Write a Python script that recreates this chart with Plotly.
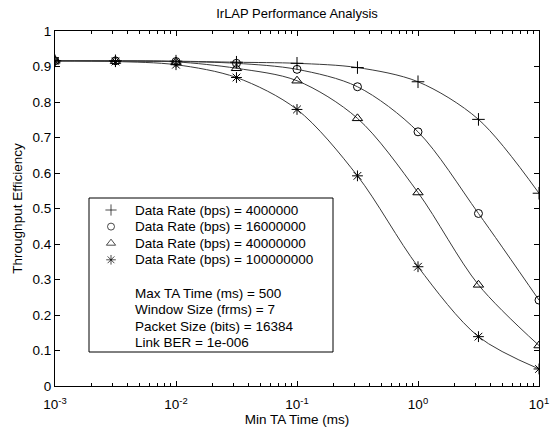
import plotly.graph_objects as go

# Minimum turnaround times (ms), sampled at half-decade steps
ta_time = [0.001, 0.00316, 0.01, 0.0316, 0.1, 0.316, 1.0, 3.16, 10.0]

# Throughput efficiency for each data rate
eff_4m = [0.916, 0.916, 0.915, 0.912, 0.909, 0.897, 0.857, 0.751, 0.543]
eff_16m = [0.916, 0.916, 0.914, 0.909, 0.892, 0.843, 0.716, 0.486, 0.242]
eff_40m = [0.916, 0.915, 0.913, 0.895, 0.860, 0.754, 0.545, 0.285, 0.114]
eff_100m = [0.916, 0.914, 0.905, 0.869, 0.779, 0.592, 0.336, 0.139, 0.048]

series_names = [
    "Data Rate (bps) = 4000000",
    "Data Rate (bps) = 16000000",
    "Data Rate (bps) = 40000000",
    "Data Rate (bps) = 100000000",
]
series_values = [eff_4m, eff_16m, eff_40m, eff_100m]
series_symbols = ["cross-thin-open", "circle-open", "triangle-up-open", "asterisk-open"]
series_sizes = [9, 8, 9, 9]

# Simulation parameters listed under the data rates
param_lines = [
    "Max TA Time (ms) = 500",
    "Window Size (frms) = 7",
    "Packet Size (bits) = 16384",
    "Link BER = 1e-006",
]

x_tick_vals = [0.001, 0.01, 0.1, 1, 10]
x_tick_text = ["10<sup>-3</sup>", "10<sup>-2</sup>", "10<sup>-1</sup>", "10<sup>0</sup>", "10<sup>1</sup>"]
x_minor_vals = [m * d for d in [0.001, 0.01, 0.1, 1] for m in range(2, 10)]
y_tick_vals = [0, 0.1, 0.2, 0.3, 0.4, 0.5, 0.6, 0.7, 0.8, 0.9, 1]
y_tick_text = ["0", "0.1", "0.2", "0.3", "0.4", "0.5", "0.6", "0.7", "0.8", "0.9", "1"]

FONT = "Liberation Sans, Arial, Helvetica, sans-serif"
FS = 13.5

# Plot area in pixels (left, right, top, bottom) inside a 551x434 page
PL, PR, PT, PB = 55, 539, 31, 386
W, H = 551, 434

# Legend box layout, in the same pixel frame
BOX_L, BOX_R, BOX_T, BOX_B = 89, 333, 198, 352
SYM_X, TXT_X = 111, 133
ROW_Y0, ROW_DY = 210, 16.6

fig = go.Figure()

# Smooth curves through the samples
for vals in series_values:
    fig.add_trace(go.Scatter(
        x=ta_time, y=vals, mode="lines",
        line=dict(color="#3a3a3a", width=1, shape="spline", smoothing=0.9),
        showlegend=False, hoverinfo="skip",
    ))

# Markers at the sample points
for name, vals, sym, sz in zip(series_names, series_values, series_symbols, series_sizes):
    fig.add_trace(go.Scatter(
        x=ta_time, y=vals, mode="markers", name=name, showlegend=False,
        marker=dict(symbol=sym, size=sz, color="black",
                    line=dict(color="black", width=1)),
    ))

# Legend box drawn on a pixel-scaled overlay axis pair
fig.add_shape(type="rect", xref="x2", yref="y2",
              x0=BOX_L, x1=BOX_R, y0=BOX_T, y1=BOX_B,
              line=dict(color="black", width=1), fillcolor="white", layer="below")

legend_rows = list(zip(series_names, series_symbols, series_sizes))
row_ys = [ROW_Y0 + i * ROW_DY for i in range(len(legend_rows))]
fig.add_trace(go.Scatter(
    x=[SYM_X] * len(legend_rows), y=row_ys, xaxis="x2", yaxis="y2",
    mode="markers", showlegend=False, hoverinfo="skip",
    marker=dict(symbol=[r[1] for r in legend_rows], size=[r[2] - 1 for r in legend_rows],
                color="black", line=dict(color="black", width=1)),
))

text_rows = [r[0] for r in legend_rows] + [""] + param_lines
for i, label in enumerate(text_rows):
    if not label:
        continue
    fig.add_annotation(
        x=TXT_X, y=ROW_Y0 + i * ROW_DY, xref="x2", yref="y2",
        text=label, showarrow=False, xanchor="left", yanchor="middle",
        font=dict(size=FS), align="left",
    )

fig.update_layout(
    width=W, height=H,
    margin=dict(l=PL, r=W - PR, t=PT, b=H - PB),
    paper_bgcolor="white", plot_bgcolor="white",
    font=dict(family=FONT, size=FS, color="black"),
    showlegend=False,
    title=dict(text="IrLAP Performance Analysis", xref="paper", x=0.5, xanchor="center",
               yref="container", y=1 - 13 / H, yanchor="middle", font=dict(size=13)),
    xaxis2=dict(overlaying="x", range=[PL, PR], visible=False, fixedrange=True),
    yaxis2=dict(overlaying="y", range=[PB, PT], visible=False, fixedrange=True),
    xaxis=dict(
        type="log", range=[-3, 1], automargin=False,
        tickvals=x_tick_vals, ticktext=x_tick_text,
        ticks="inside", ticklen=5, tickcolor="black", tickwidth=1,
        ticklabelstandoff=6,
        minor=dict(tickmode="array", tickvals=x_minor_vals, ticks="inside", ticklen=3,
                   tickcolor="black", showgrid=False),
        showline=True, linecolor="black", linewidth=1, mirror="ticks",
        showgrid=False, zeroline=False,
        title=dict(text="Min TA Time (ms)", standoff=3, font=dict(size=FS)),
    ),
    yaxis=dict(
        range=[0, 1], automargin=False,
        tickvals=y_tick_vals, ticktext=y_tick_text,
        ticks="inside", ticklen=5, tickcolor="black", tickwidth=1,
        showline=True, linecolor="black", linewidth=1, mirror="ticks",
        showgrid=False, zeroline=False,
        title=dict(text="Throughput Efficiency", standoff=6, font=dict(size=FS)),
    ),
)

fig.write_html("out.html")
